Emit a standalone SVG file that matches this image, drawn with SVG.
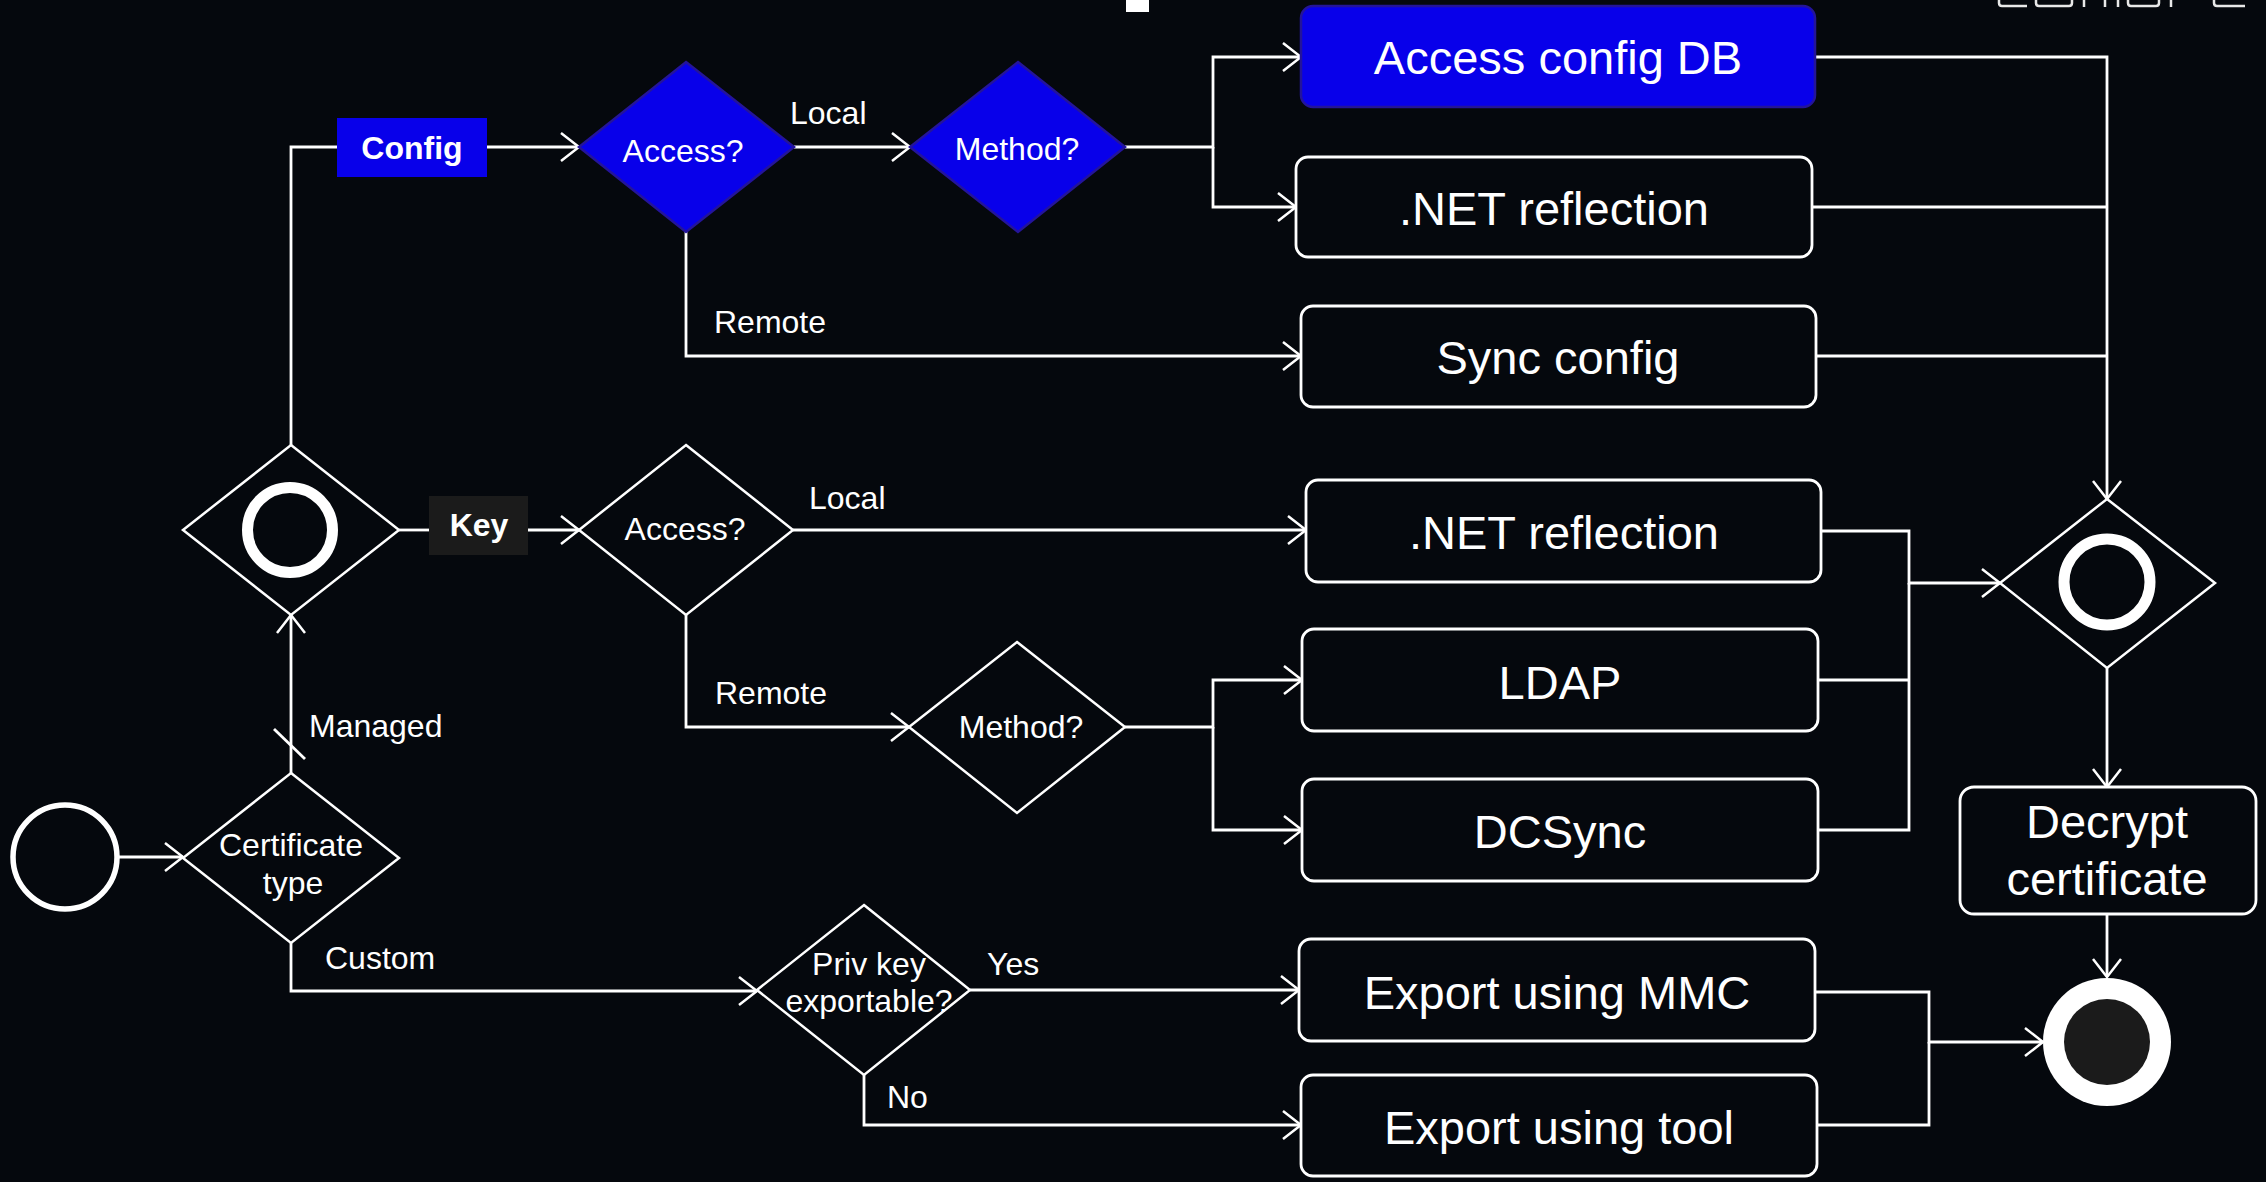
<svg xmlns="http://www.w3.org/2000/svg" width="2266" height="1182" viewBox="0 0 2266 1182">
<defs>
<marker id="arr" markerUnits="userSpaceOnUse" viewBox="-21 -16 23 32" markerWidth="23" markerHeight="32" refX="0" refY="0" orient="auto">
<path d="M-18,-14 L0,0 L-18,14" fill="none" stroke="#ffffff" stroke-width="2.5"/>
</marker>
<style>
.bg{fill:#05080d}
.ln{fill:none;stroke:#ffffff;stroke-width:2.8}
.box{fill:#05080d;stroke:#ffffff;stroke-width:2.8}
.bbox{fill:#0800ea;stroke:#24149a;stroke-width:2.5}
.dia{fill:#05080d;stroke:#ffffff;stroke-width:2.5}
.bdia{fill:#0800ea;stroke:#24149a;stroke-width:2.5}
.t{font-family:"Liberation Sans",Arial,sans-serif;fill:#ffffff;text-anchor:middle}
.big{font-size:47px}
.sm{font-size:32px}
.lbl{font-family:"Liberation Sans",Arial,sans-serif;fill:#ffffff;font-size:32px}
.bold{font-weight:bold}
</style>
</defs>
<rect class="bg" x="0" y="0" width="2266" height="1182"/>

<!-- decorative fragments at top edge -->
<g id="top-fragments">
<rect x="1126" y="0" width="23" height="12" fill="#ffffff"/>
<path d="M1999,0 V3 Q1999,6 2002,6 H2027 M2036,0 V3 Q2036,6 2039,6 H2069 Q2072,6 2072,3 V0 M2084,0 V7 M2105,0 V7 M2118,0 V7 M2128,0 V3 Q2128,6 2131,6 H2156 Q2159,6 2159,3 V0 M2171,0 V7 M2214,0 V3 Q2214,6 2217,6 H2245" fill="none" stroke="#e8e8e8" stroke-width="2.5"/>
</g>

<g id="connectors">
<path class="ln" d="M117,857 H183" marker-end="url(#arr)"/>
<path class="ln" d="M291,773 V615" marker-end="url(#arr)"/>
<path class="ln" d="M274,729 L305,759"/>
<path class="ln" d="M291,445 V147 H337"/>
<path class="ln" d="M487,147 H579" marker-end="url(#arr)"/>
<path class="ln" d="M794,147 H910" marker-end="url(#arr)"/>
<path class="ln" d="M686,232 V356 H1301" marker-end="url(#arr)"/>
<path class="ln" d="M1125,147 H1213 V57 H1301" marker-end="url(#arr)"/>
<path class="ln" d="M1213,147 V207 H1296" marker-end="url(#arr)"/>
<path class="ln" d="M1815,57 H2107 V499" marker-end="url(#arr)"/>
<path class="ln" d="M1812,207 H2107"/>
<path class="ln" d="M1816,356 H2107"/>
<path class="ln" d="M399,530 H429"/>
<path class="ln" d="M528,530 H579" marker-end="url(#arr)"/>
<path class="ln" d="M793,530 H1306" marker-end="url(#arr)"/>
<path class="ln" d="M686,615 V727 H909" marker-end="url(#arr)"/>
<path class="ln" d="M1125,727 H1213 V680 H1302" marker-end="url(#arr)"/>
<path class="ln" d="M1213,727 V830 H1302" marker-end="url(#arr)"/>
<path class="ln" d="M1821,531 H1909 V583 H2000" marker-end="url(#arr)"/>
<path class="ln" d="M1818,680 H1909"/>
<path class="ln" d="M1818,830 H1909 V583"/>
<path class="ln" d="M2107,668 V787" marker-end="url(#arr)"/>
<path class="ln" d="M2107,914 V977" marker-end="url(#arr)"/>
<path class="ln" d="M291,943 V991 H757" marker-end="url(#arr)"/>
<path class="ln" d="M970,990 H1299" marker-end="url(#arr)"/>
<path class="ln" d="M864,1075 V1125 H1301" marker-end="url(#arr)"/>
<path class="ln" d="M1815,992 H1929 V1042 H2043" marker-end="url(#arr)"/>
<path class="ln" d="M1817,1125 H1929 V1042"/>
<text class="lbl" x="790" y="124">Local</text>
<text class="lbl" x="714" y="333">Remote</text>
<text class="lbl" x="809" y="509">Local</text>
<text class="lbl" x="715" y="704">Remote</text>
<text class="lbl" x="309" y="737">Managed</text>
<text class="lbl" x="325" y="969">Custom</text>
<text class="lbl" x="987" y="975">Yes</text>
<text class="lbl" x="887" y="1108">No</text>
</g>

<g id="start">
<circle cx="65" cy="857" r="52" fill="none" stroke="#ffffff" stroke-width="5.5"/>
</g>

<g id="cert-type">
<polygon class="dia" points="291,773 399,858 291,943 183,858"/>
<text class="t sm" x="291" y="856">Certificate</text>
<text class="t sm" x="293" y="894">type</text>
</g>

<g id="merge-left">
<polygon class="dia" points="291,445 399,530 291,615 183,530"/>
<circle cx="290" cy="530" r="42.5" fill="none" stroke="#ffffff" stroke-width="11"/>
</g>

<g id="config">
<rect x="337" y="118" width="150" height="59" fill="#0800ea"/>
<text class="t sm bold" x="412" y="159">Config</text>
</g>

<g id="access-config">
<polygon class="bdia" points="686,62 794,147 686,232 579,147"/>
<text class="t sm" x="683" y="162">Access?</text>
</g>

<g id="method-config">
<polygon class="bdia" points="1018,62 1125,147 1018,232 910,147"/>
<text class="t sm" x="1017" y="160">Method?</text>
</g>

<g id="key">
<rect x="429" y="496" width="99" height="59" fill="#1b1b1b"/>
<text class="t sm bold" x="479" y="536">Key</text>
</g>

<g id="access-key">
<polygon class="dia" points="686,445 793,530 686,615 579,530"/>
<text class="t sm" x="685" y="540">Access?</text>
</g>

<g id="method-key">
<polygon class="dia" points="1017,642 1125,727 1017,813 909,727"/>
<text class="t sm" x="1021" y="738">Method?</text>
</g>

<g id="priv-key">
<polygon class="dia" points="864,905 970,990 864,1075 757,990"/>
<text class="t sm" x="869" y="975">Priv key</text>
<text class="t sm" x="869" y="1012">exportable?</text>
</g>

<g id="access-config-db">
<rect class="bbox" x="1301" y="6" width="514" height="101" rx="12"/>
<text class="t big" x="1558" y="74">Access config DB</text>
</g>

<g id="net-reflection-1">
<rect class="box" x="1296" y="157" width="516" height="100" rx="12"/>
<text class="t big" x="1554" y="225">.NET reflection</text>
</g>

<g id="sync-config">
<rect class="box" x="1301" y="306" width="515" height="101" rx="12"/>
<text class="t big" x="1558" y="374">Sync config</text>
</g>

<g id="net-reflection-2">
<rect class="box" x="1306" y="480" width="515" height="102" rx="12"/>
<text class="t big" x="1564" y="549">.NET reflection</text>
</g>

<g id="ldap">
<rect class="box" x="1302" y="629" width="516" height="102" rx="12"/>
<text class="t big" x="1560" y="699">LDAP</text>
</g>

<g id="dcsync">
<rect class="box" x="1302" y="779" width="516" height="102" rx="12"/>
<text class="t big" x="1560" y="848">DCSync</text>
</g>

<g id="export-mmc">
<rect class="box" x="1299" y="939" width="516" height="102" rx="12"/>
<text class="t big" x="1557" y="1009">Export using MMC</text>
</g>

<g id="export-tool">
<rect class="box" x="1301" y="1075" width="516" height="101" rx="12"/>
<text class="t big" x="1559" y="1144">Export using tool</text>
</g>

<g id="merge-right">
<polygon class="dia" points="2107,499 2215,583 2107,668 2000,583"/>
<circle cx="2107" cy="582" r="43" fill="none" stroke="#ffffff" stroke-width="11"/>
</g>

<g id="decrypt">
<rect class="box" x="1960" y="787" width="296" height="127" rx="14"/>
<text class="t big" x="2107" y="838">Decrypt</text>
<text class="t big" x="2107" y="895">certificate</text>
</g>

<g id="end">
<circle cx="2107" cy="1042" r="64" fill="#ffffff"/>
<circle cx="2107" cy="1042" r="43" fill="#1b1b1b"/>
</g>
</svg>
